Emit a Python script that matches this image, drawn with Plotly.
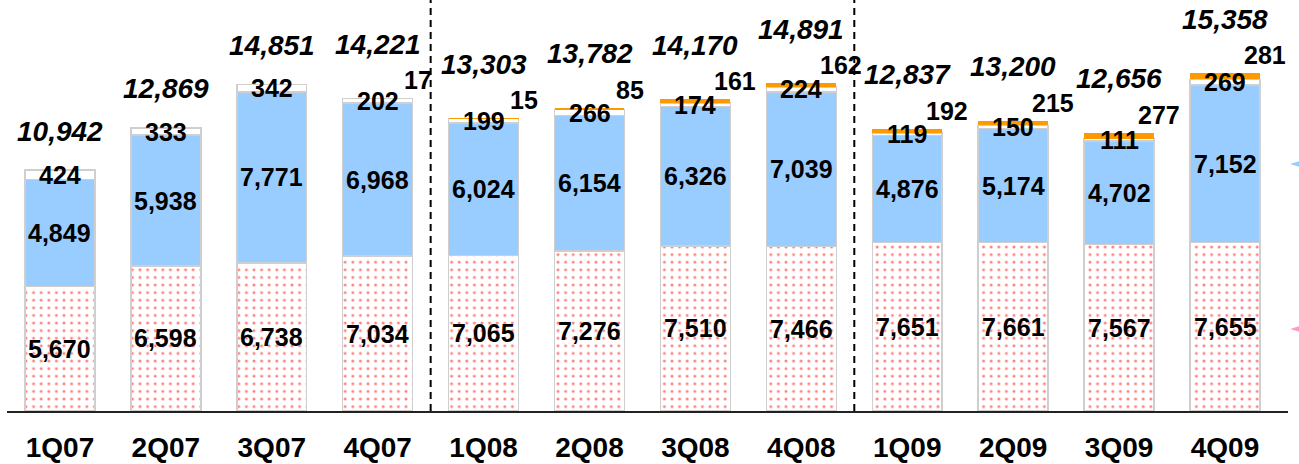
import plotly.graph_objects as go

quarters = ["1Q07", "2Q07", "3Q07", "4Q07", "1Q08", "2Q08", "3Q08", "4Q08",
            "1Q09", "2Q09", "3Q09", "4Q09"]
seg_red = [5670, 6598, 6738, 7034, 7065, 7276, 7510, 7466, 7651, 7661, 7567, 7655]
seg_blue = [4849, 5938, 7771, 6968, 6024, 6154, 6326, 7039, 4876, 5174, 4702, 7152]
seg_white = [424, 333, 342, 202, 199, 266, 174, 224, 119, 150, 111, 269]
seg_orange = [None, None, None, 17, 15, 85, 161, 162, 192, 215, 277, 281]
totals = [10942, 12869, 14851, 14221, 13303, 13782, 14170, 14891, 12837, 13200, 12656, 15358]

FONT = "Liberation Sans, Arial, sans-serif"
EDGE = "#CFCFCF"

fig = go.Figure()
fig.add_trace(go.Bar(
    x=quarters, y=seg_red,
    marker=dict(color="white",
                pattern=dict(shape=".", fgcolor="#FF0000", bgcolor="white",
                             size=7.6, solidity=0.12, fillmode="overlay"),
                line=dict(color=EDGE, width=1.5)),
    hoverinfo="skip"))
fig.add_trace(go.Bar(
    x=quarters, y=seg_blue,
    marker=dict(color="#99CCFF", line=dict(color=EDGE, width=1.5)),
    hoverinfo="skip"))
fig.add_trace(go.Bar(
    x=quarters, y=seg_white,
    marker=dict(color="white", line=dict(color=EDGE, width=1.5)),
    hoverinfo="skip"))
fig.add_trace(go.Bar(
    x=quarters, y=seg_orange,
    marker=dict(color="#FF9900", line=dict(width=0)),
    hoverinfo="skip"))

annotations = []
val_font = dict(family=FONT, size=25, color="black", weight="bold")
for i, q in enumerate(quarters):
    base = 0
    for seg in (seg_red, seg_blue, seg_white):
        v = seg[i]
        annotations.append(dict(x=q, y=base + v / 2, text=f"{v:,}", showarrow=False,
                                font=val_font, xanchor="center", yanchor="middle"))
        base += v
    ov = seg_orange[i]
    top = base + (ov or 0)
    if ov is not None:
        annotations.append(dict(x=q, y=top, text=f"{ov:,}", showarrow=False,
                                font=val_font, xanchor="center", yanchor="middle",
                                xshift=40, yshift=18))
    annotations.append(dict(x=q, y=top, text=f"{totals[i]:,}", showarrow=False,
                            font=dict(family=FONT, size=28, color="black",
                                      weight="bold", style="italic"),
                            xanchor="center", yanchor="middle",
                            yshift=54 if ov is not None else 39))

shapes = []
for xpos in (3.5, 7.5):
    shapes.append(dict(type="line", xref="x", yref="paper", x0=xpos, x1=xpos,
                       y0=0, y1=1.02, line=dict(color="black", width=2, dash="7px,5px")))

# cropped legend markers on the right edge
def tri(yp, color):
    px = 1 / 1281
    py = 1 / 411
    x0 = 1.0016
    return dict(type="path", xref="paper", yref="paper",
                path=f"M {x0} {yp} L {x0 + 16*px} {yp + 5*py} L {x0 + 16*px} {yp - 5*py} Z",
                fillcolor=color, line=dict(width=0))
shapes.append(tri((411 - 164) / 411, "#99CCFF"))
shapes.append(tri((411 - 329) / 411, "#FF99CC"))

fig.update_layout(
    barmode="stack",
    bargap=0.34,
    width=1299, height=464,
    margin=dict(l=7, r=11, t=0, b=53),
    paper_bgcolor="white", plot_bgcolor="white",
    showlegend=False,
    annotations=annotations,
    shapes=shapes,
    xaxis=dict(showline=True, linecolor="#222222", linewidth=1.5, showgrid=False,
               ticks="", tickfont=dict(family=FONT, size=28, color="black", weight="bold"),
               ticklabelstandoff=11, fixedrange=True, automargin=False),
    yaxis=dict(range=[0, 18680], visible=False, showgrid=False, zeroline=False,
               fixedrange=True),
)
fig.write_html("out.html", config={"displayModeBar": False, "staticPlot": True},
               post_script="document.body.style.margin='0px';document.body.style.overflow='hidden';")
